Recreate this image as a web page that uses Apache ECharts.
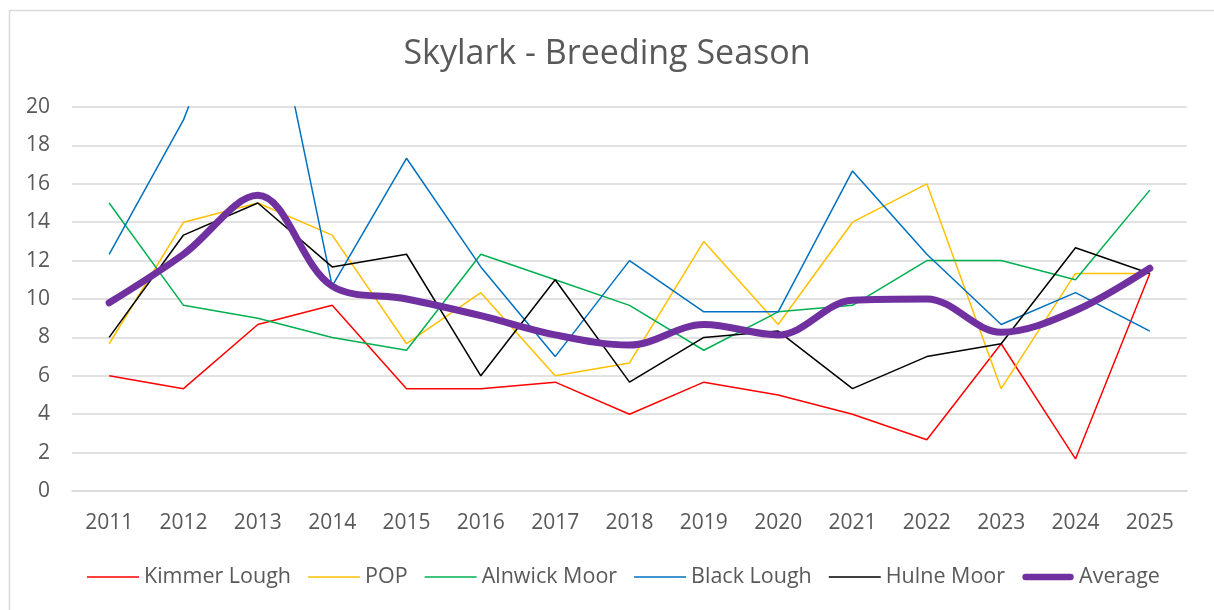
<!DOCTYPE html>
<html>
<head>
<meta charset="utf-8">
<script src="https://cdn.jsdelivr.net/npm/echarts@6/dist/echarts.min.js"></script>
<style>
    html, body { margin: 0; padding: 0; background: #fff; }
    #chart { width: 1214px; height: 610px; }
</style>
</head>
<body>
<div id="chart"></div>
<script>
// years on the x axis
const years = ['2011', '2012', '2013', '2014', '2015', '2016', '2017', '2018',
    '2019', '2020', '2021', '2022', '2023', '2024', '2025'];

// counts per site
const kimmerLough = [6, 5.33, 8.67, 9.67, 5.33, 5.33, 5.67, 4, 5.67, 5, 4, 2.67, 7.67, 1.67, 11.33];
const pop = [7.67, 14, 15, 13.33, 7.67, 10.33, 6, 6.67, 13, 8.67, 14, 16, 5.33, 11.33, 11.33];
const alnwickMoor = [15, 9.67, 9, 8, 7.33, 12.33, 11, 9.67, 7.33, 9.33, 9.67, 12, 12, 11, 15.67];
const blackLough = [12.33, 19.33, 29.33, 10.67, 17.33, 11.67, 7, 12, 9.33, 9.33, 16.67, 12.33, 8.67, 10.33, 8.33];
const hulneMoor = [8, 13.33, 15, 11.67, 12.33, 6, 11, 5.67, 8, 8.33, 5.33, 7, 7.67, 12.67, 11.33];
const average = [9.8, 12.33, 15.4, 10.67, 10, 9.13, 8.13, 7.6, 8.67, 8.13, 9.93, 10, 8.27, 9.4, 11.6];

const textColor = '#595959';
const fontFamily = 'Open Sans, Noto Sans, sans-serif';

// legend icons: the box is 52x8, the extra moveTo points keep the box size
const thinIcon = 'path://M0,0M0,3.2L52,3.2L52,4.8L0,4.8ZM52,8';
const thickIcon = 'path://M0,0M3.5,0.8L48.5,0.8A3.2,3.2,0,0,1,48.5,7.2L3.5,7.2A3.2,3.2,0,0,1,3.5,0.8ZM52,8';

function siteLine(name, data, color) {
    return {
        name: name,
        type: 'line',
        data: data,
        symbol: 'none',
        clip: true,
        lineStyle: { color: color, width: 1.5 },
        itemStyle: { color: color }
    };
}

let myChart = echarts.init(document.getElementById('chart'));

let option = {
    animation: false,
    textStyle: { fontFamily: fontFamily },
    title: {
        text: 'Skylark - Breeding Season',
        left: 'center',
        top: 32,
        textStyle: {
            color: textColor,
            fontSize: 34,
            fontWeight: 'normal',
            fontFamily: fontFamily
        }
    },
    legend: {
        top: 561,
        left: 82,
        itemWidth: 52,
        itemHeight: 8,
        itemGap: 17,
        textStyle: { color: textColor, fontSize: 21.5, fontFamily: fontFamily },
        data: [
            { name: 'Kimmer Lough', icon: thinIcon },
            { name: 'POP', icon: thinIcon },
            { name: 'Alnwick Moor', icon: thinIcon },
            { name: 'Black Lough', icon: thinIcon },
            { name: 'Hulne Moor', icon: thinIcon },
            { name: 'Average', icon: thickIcon }
        ]
    },
    grid: {
        left: 72,
        right: 27,
        top: 107,
        bottom: 119,
        containLabel: false
    },
    xAxis: {
        type: 'category',
        data: years,
        boundaryGap: true,
        axisLine: { show: true, lineStyle: { color: '#d9d9d9', width: 1.5 } },
        axisTick: { show: false },
        axisLabel: { color: textColor, fontSize: 21, margin: 22 }
    },
    yAxis: {
        type: 'value',
        min: 0,
        max: 20,
        interval: 2,
        axisLine: { show: false },
        axisTick: { show: false },
        axisLabel: { color: textColor, fontSize: 21, margin: 22 },
        splitLine: { lineStyle: { color: '#d9d9d9', width: 1.5 } }
    },
    series: [
        siteLine('Kimmer Lough', kimmerLough, '#ff0000'),
        siteLine('POP', pop, '#ffc000'),
        siteLine('Alnwick Moor', alnwickMoor, '#00b050'),
        siteLine('Black Lough', blackLough, '#0070c0'),
        siteLine('Hulne Moor', hulneMoor, '#000000'),
        {
            name: 'Average',
            type: 'line',
            data: average,
            symbol: 'none',
            smooth: 0.35,
            clip: true,
            z: 5,
            lineStyle: { color: '#7030a0', width: 7, cap: 'round', join: 'round' },
            itemStyle: { color: '#7030a0' }
        }
    ],
    // light frame round the chart area, open on the right and bottom like the picture
    graphic: [{
        type: 'rect',
        left: 7,
        top: 8,
        shape: { width: 1240, height: 640 },
        style: { fill: 'none', stroke: '#d9d9d9', lineWidth: 1.5 },
        silent: true
    }]
};

myChart.setOption(option);
</script>
</body>
</html>
